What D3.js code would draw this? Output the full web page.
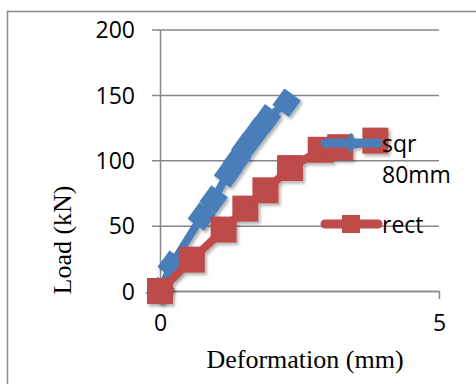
<!DOCTYPE html>
<html>
<head>
<meta charset="utf-8">
<script src="https://cdn.jsdelivr.net/npm/d3@7"></script>
<style>
  body { margin: 0; background: #fff; }
  svg { display: block; }
</style>
</head>
<body>
<div id="chart"></div>
<script>
// values
const sqrX = [0, 0.21, 0.75, 0.96, 1.22, 1.38, 1.53, 1.74, 1.92, 2.27]
const sqrY = [0, 20, 57, 70, 90, 100, 110, 122, 132, 144]
const rectX = [0, 0.57, 1.14, 1.53, 1.89, 2.33, 2.88, 3.23, 3.86]
const rectY = [0, 24, 47, 63, 77, 94, 108, 110, 115]
const yTicks = [0, 50, 100, 150, 200]
const xTicks = [0, 5]
const seriesNames = ['sqr 80mm', 'rect']

const W = 476
const H = 384
const margin = { top: 29.5, left: 160, right: 37, bottom: 93 }
const width = W - margin.left - margin.right
const height = H - margin.top - margin.bottom

const blue = '#4a7ebb'
const red = '#be4b48'
const grid = '#878787'

const svg = d3
  .select('#chart')
  .append('svg')
  .attr('width', W)
  .attr('height', H)

const defs = svg.append('defs')
defs
  .append('filter')
  .attr('id', 'shadow')
  .attr('x', '-50%')
  .attr('y', '-50%')
  .attr('width', '200%')
  .attr('height', '200%')
  .append('feDropShadow')
  .attr('dx', 2)
  .attr('dy', 2.5)
  .attr('stdDeviation', 1.6)
  .attr('flood-color', '#000')
  .attr('flood-opacity', 0.3)

// outer frame
svg
  .append('rect')
  .attr('x', 7.5)
  .attr('y', 11.5)
  .attr('width', 600)
  .attr('height', 600)
  .attr('fill', 'none')
  .attr('stroke', '#8a8a8a')
  .attr('stroke-width', 1.5)

const g = svg
  .append('g')
  .attr('transform', 'translate(' + margin.left + ',' + margin.top + ')')

const x = d3.scaleLinear().domain([0, 5]).range([0, width])
const y = d3.scaleLinear().domain([0, 200]).range([height, 0])

// y axis with gridlines
const yAxis = d3
  .axisLeft(y)
  .tickValues(yTicks)
  .tickSizeInner(-width)
  .tickSizeOuter(0)
  .tickPadding(25)
  .tickFormat(d3.format('d'))

const yG = g.append('g').attr('class', 'y-axis').call(yAxis)
yG.selectAll('.tick line')
  .attr('x1', -8)
  .attr('stroke', grid)
  .attr('stroke-width', 1.5)
yG.select('.domain').attr('stroke', grid).attr('stroke-width', 1.5)
yG.selectAll('.tick text')
  .attr('font-family', 'Open Sans, sans-serif')
  .attr('font-size', 23)
  .attr('fill', '#000')
  .attr('dy', '0.36em')

// x axis
const xAxis = d3
  .axisBottom(x)
  .tickValues(xTicks)
  .tickSizeInner(8)
  .tickSizeOuter(0)
  .tickPadding(16)
  .tickFormat(d3.format('d'))

const xG = g
  .append('g')
  .attr('class', 'x-axis')
  .attr('transform', 'translate(0,' + height + ')')
  .call(xAxis)
xG.select('.domain').attr('stroke', grid).attr('stroke-width', 1.5)
xG.selectAll('.tick line').attr('stroke', grid).attr('stroke-width', 1.5)
xG.selectAll('.tick text')
  .attr('font-family', 'Open Sans, sans-serif')
  .attr('font-size', 23)
  .attr('fill', '#000')

// axis titles
svg
  .append('text')
  .attr('transform', 'translate(71,240) rotate(-90)')
  .attr('text-anchor', 'middle')
  .attr('font-family', 'Liberation Serif, Times New Roman, serif')
  .attr('font-size', 26)
  .text('Load (kN)')

svg
  .append('text')
  .attr('x', 305)
  .attr('y', 368)
  .attr('text-anchor', 'middle')
  .attr('font-family', 'Liberation Serif, Times New Roman, serif')
  .attr('font-size', 26)
  .text('Deformation (mm)')

const sqrData = sqrX.map((d, i) => ({ x: d, y: sqrY[i] }))
const rectData = rectX.map((d, i) => ({ x: d, y: rectY[i] }))

const line = d3
  .line()
  .x(d => x(d.x))
  .y(d => y(d.y))

const diamond = d3.symbol().type(d3.symbolSquare).size(420)

// sqr series
const sqrG = g.append('g').attr('filter', 'url(#shadow)')
sqrG
  .append('path')
  .datum(sqrData)
  .attr('d', line)
  .attr('fill', 'none')
  .attr('stroke', blue)
  .attr('stroke-width', 8)
  .attr('stroke-linejoin', 'round')
  .attr('stroke-linecap', 'round')
sqrG
  .selectAll('.sqr-pt')
  .data(sqrData)
  .enter()
  .append('path')
  .attr('class', 'sqr-pt')
  .attr('d', diamond)
  .attr('transform', d => 'translate(' + x(d.x) + ',' + y(d.y) + ') rotate(36)')
  .attr('fill', blue)

// rect series
const rectG = g.append('g').attr('filter', 'url(#shadow)')
rectG
  .append('path')
  .datum(rectData)
  .attr('d', line)
  .attr('fill', 'none')
  .attr('stroke', red)
  .attr('stroke-width', 8)
  .attr('stroke-linejoin', 'round')
  .attr('stroke-linecap', 'round')
rectG
  .selectAll('.rect-pt')
  .data(rectData)
  .enter()
  .append('rect')
  .attr('class', 'rect-pt')
  .attr('x', d => x(d.x) - 13)
  .attr('y', d => y(d.y) - 13)
  .attr('width', 26)
  .attr('height', 26)
  .attr('fill', red)

// legend
const legend = svg.append('g').attr('font-family', 'Open Sans, sans-serif').attr('font-size', 23)

const lg1 = legend.append('g').attr('transform', 'translate(0,143)')
lg1
  .append('line')
  .attr('x1', 325)
  .attr('x2', 378)
  .attr('stroke', blue)
  .attr('stroke-width', 9)
  .attr('stroke-linecap', 'round')
lg1
  .append('path')
  .attr('d', d3.symbol().type(d3.symbolDiamond).size(130))
  .attr('transform', 'translate(351,0)')
  .attr('fill', blue)
lg1
  .append('text')
  .attr('x', 382)
  .attr('y', 9)
  .text(seriesNames[0].split(' ')[0])
lg1
  .append('text')
  .attr('x', 382)
  .attr('y', 40)
  .text(seriesNames[0].split(' ')[1])

const lg2 = legend.append('g').attr('transform', 'translate(0,224)')
lg2
  .append('line')
  .attr('x1', 325)
  .attr('x2', 378)
  .attr('stroke', red)
  .attr('stroke-width', 9)
  .attr('stroke-linecap', 'round')
lg2
  .append('rect')
  .attr('x', 342)
  .attr('y', -9)
  .attr('width', 18)
  .attr('height', 18)
  .attr('fill', red)
lg2
  .append('text')
  .attr('x', 382)
  .attr('y', 9)
  .text(seriesNames[1])
</script>
</body>
</html>
